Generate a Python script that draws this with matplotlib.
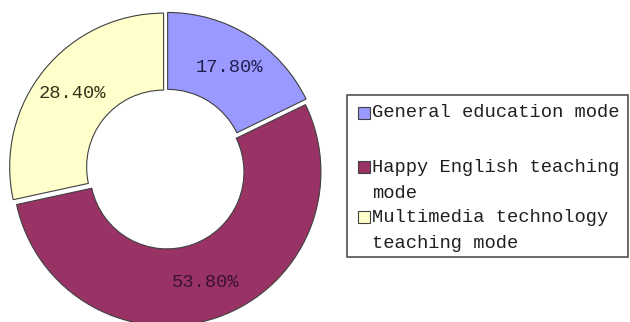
import matplotlib.pyplot as plt
from matplotlib.patches import Rectangle

# data
modes = ['General education mode', 'Happy English teaching\nmode',
         'Multimedia technology\nteaching mode']
shares = [17.8, 53.8, 28.4]
colors = ['#9999FF', '#993366', '#FFFFCC']
pct_colors = ['#202050', '#3a1030', '#333318']

W, H = 630, 322
fig = plt.figure(figsize=(W / 100, H / 100), dpi=100)

def fx(px):
    return px / W

def fy(py):
    return 1 - py / H

# donut
cx, cy, r = 166, 169, 157
ax = fig.add_axes([fx(cx - r), fy(cy + r), 2 * r / W, 2 * r / H])
wedges, texts, autotexts = ax.pie(
    shares, colors=colors, startangle=90, counterclock=False,
    explode=[0.02] * len(shares),
    wedgeprops=dict(width=0.5, edgecolor='#404040', linewidth=0.8),
    autopct='%.2f%%', pctdistance=0.76,
    textprops=dict(family='Liberation Mono', fontsize=13.5))
for t, c in zip(autotexts, pct_colors):
    t.set_color(c)
ax.set_xlim(-1.02, 1.02)
ax.set_ylim(-1.02, 1.02)
ax.set_aspect('equal')
ax.axis('off')

# legend box drawn by hand (irregular spacing as in the original)
fig.patches.append(Rectangle((fx(347), fy(257)), fx(628) - fx(347), fy(95) - fy(257),
                             transform=fig.transFigure, facecolor='white',
                             edgecolor='#505050', linewidth=1.2))
row_top = [113, 167, 217]
step = 26
for lab, col, y0 in zip(modes, colors, row_top):
    fig.patches.append(Rectangle((fx(358), fy(y0 + 6)), 12 / W, 12 / H,
                                 transform=fig.transFigure, facecolor=col,
                                 edgecolor='#404040', linewidth=0.8))
    for i, line in enumerate(lab.split('\n')):
        fig.text(fx(372), fy(y0 + i * step), line, family='Liberation Mono',
                 fontsize=13.5, color='#202020', va='center', ha='left')

fig.savefig('out.png', dpi=100)
